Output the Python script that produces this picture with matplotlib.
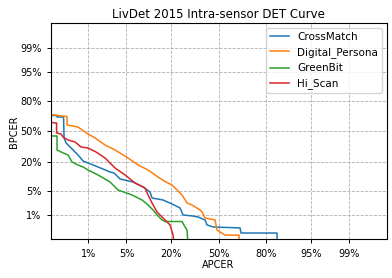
from statistics import NormalDist

import numpy as np
import matplotlib
matplotlib.use("Agg")
import matplotlib.pyplot as plt

# DET curves, values in percent (APCER, BPCER)
sensors = ["CrossMatch", "Digital_Persona", "GreenBit", "Hi_Scan"]

cm_apcer = [0.135, 0.196, 0.196, 0.282, 0.29, 0.323, 0.469, 0.605, 0.777, 0.989, 1.571, 2.634,
            3.102, 3.929, 6.341, 8.879, 11.062, 11.752, 16.083, 20.317, 24.588, 26.306, 31.803,
            35.716, 40.475, 41.865, 46.088, 64.948, 65.608, 85.191, 85.191]
cm_bpcer = [67.16, 67.16, 65.64, 65.64, 42.84, 37.47, 30.37, 25.69, 20.6, 19.08, 16.2, 13.03,
            12.45, 9.36, 8.03, 6.16, 4.64, 3.24, 2.85, 2.2, 1.68, 1.02, 0.95, 0.88, 0.7, 0.47,
            0.4, 0.37, 0.24, 0.24, 0.08]

dp_apcer = [0.135, 0.208, 0.341, 0.341, 0.605, 0.738, 0.989, 1.372, 2.134, 3.23, 5.3, 7.53,
            10.4, 14.0, 16.97, 20.3, 21.9, 25.7, 28.7, 31.8, 37.1, 38.4, 40.5, 47.5, 48.9,
            54.6, 64.3, 64.3]
dp_bpcer = [68.16, 67.16, 66.15, 57.16, 54.97, 51.66, 47.23, 42.84, 35.38, 30.37, 23.08, 17.6,
            14.24, 10.31, 8.24, 6.86, 5.83, 3.89, 2.35, 2.06, 1.46, 1.27, 0.81, 0.7, 0.31,
            0.2, 0.2, 0.08]

gb_apcer = [0.135, 0.196, 0.196, 0.246, 0.36, 0.445, 0.605, 0.777, 0.989, 1.571, 2.634, 3.636,
            6.122, 8.596, 10.403, 12.107, 13.606, 15.65, 16.97, 25.727, 27.485, 28.689, 29.3]
gb_bpcer = [45.03, 45.03, 30.37, 28.45, 25.69, 19.84, 17.6, 16.2, 14.24, 11.35, 8.03, 5.21,
            3.89, 2.85, 2.06, 1.46, 1.02, 0.7, 0.62, 0.62, 0.4, 0.31, 0.08]

hs_apcer = [0.135, 0.191, 0.191, 0.246, 0.274, 0.36, 0.52, 0.704, 0.989, 1.435, 2.134, 2.634,
            3.229, 4.75, 6.797, 9.468, 10.403, 11.752, 13.606, 16.97, 19.323, 20.825, 21.341]
hs_bpcer = [59.87, 59.33, 48.34, 47.23, 43.93, 40.67, 38.53, 33.34, 32.34, 28.45, 23.08, 19.08,
            15.53, 11.35, 7.63, 5.83, 3.89, 2.35, 1.27, 0.7, 0.47, 0.2, 0.08]

ticks = [0.01, 0.05, 0.20, 0.5, 0.80, 0.95, 0.99]
tick_labels = ["1%", "5%", "20%", "50%", "80%", "95%", "99%"]

nd = NormalDist()
_ppf = np.vectorize(lambda p: nd.inv_cdf(min(max(p, 1e-9), 1 - 1e-9)), otypes=[float])
_cdf = np.vectorize(nd.cdf, otypes=[float])


def probit(p):
    return _ppf(np.asarray(p, dtype=float))


def inv_probit(z):
    return _cdf(np.asarray(z, dtype=float))


fig = plt.figure(figsize=(3.92, 2.78), dpi=100)
ax = fig.add_axes([0.129, 0.1385, 0.857, 0.777])

curves = [(cm_apcer, cm_bpcer), (dp_apcer, dp_bpcer), (gb_apcer, gb_bpcer), (hs_apcer, hs_bpcer)]
for name, (apcer, bpcer) in zip(sensors, curves):
    ax.plot(np.array(apcer) / 100, np.array(bpcer) / 100, label=name, linewidth=1.1)

# probit (normal deviate) axes, as in a standard DET plot
ax.set_xscale("function", functions=(probit, inv_probit))
ax.set_yscale("function", functions=(probit, inv_probit))
lim = (nd.cdf(-3), nd.cdf(3))
ax.set_xlim(lim)
ax.set_ylim(lim)
ax.set_xticks(ticks)
ax.set_xticklabels(tick_labels)
ax.set_yticks(ticks)
ax.set_yticklabels(tick_labels)
ax.minorticks_off()
ax.tick_params(labelsize=7, length=3, width=0.7)
for s in ax.spines.values():
    s.set_linewidth(0.8)

ax.grid(True, linestyle="--", color="#b0b0b0", linewidth=0.6)
ax.set_xlabel("APCER", fontsize=7, labelpad=1)
ax.set_ylabel("BPCER", fontsize=7, labelpad=1)
ax.set_title("LivDet 2015 Intra-sensor DET Curve", fontsize=8.5, pad=4)
ax.legend(loc="upper right", fontsize=7.5, handlelength=1.8, borderaxespad=0.4)

fig.savefig("out.png", dpi=100)
